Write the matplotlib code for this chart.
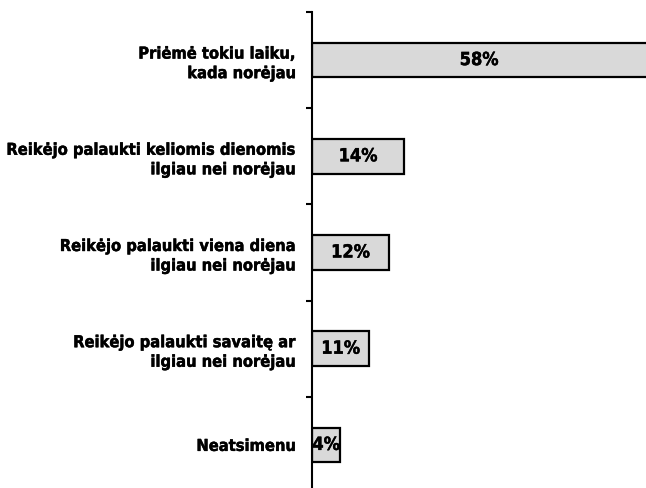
import matplotlib.pyplot as plt
import matplotlib.patheffects as pe

plt.rcParams['font.family'] = ['DejaVu Sans']
plt.rcParams['font.stretch'] = 'condensed'
plt.rcParams['font.weight'] = 'bold'

categories = [
    "Priėmė tokiu laiku,\nkada norėjau",
    "Reikėjo palaukti keliomis dienomis\nilgiau nei norėjau",
    "Reikėjo palaukti viena diena\nilgiau nei norėjau",
    "Reikėjo palaukti savaitę ar\nilgiau nei norėjau",
    "Neatsimenu",
]
# bar lengths, labels as printed
values = [58, 14, 11.7, 8.7, 4.3]
value_labels = ["58%", "14%", "12%", "11%", "4%"]

heavy = [pe.withStroke(linewidth=0.3, foreground='black')]

fig = plt.figure(figsize=(6.46, 4.88), dpi=100)
ax = fig.add_axes([312/646, -5/488, 334/646, 481/488])

pos = list(range(len(categories)))
ax.barh(pos, values, height=0.36, color='#d9d9d9', edgecolor='black', linewidth=1.6)

xmax = 50.8
ax.set_xlim(0, xmax)
ax.set_ylim(len(categories) - 0.5, -0.5)

for y, v, lab in zip(pos, values, value_labels):
    ax.text(min(v, xmax) / 2, y, lab, ha='center', va='center',
            fontsize=13, fontweight='bold', path_effects=heavy)

# boundary ticks on the axis, category names on hidden minor ticks
ax.set_yticks([p - 0.5 for p in pos] + [len(pos) - 0.5])
ax.set_yticklabels([])
ax.set_yticks(pos, minor=True)
ax.set_yticklabels(categories, minor=True, fontsize=11.8, fontweight='bold',
                   linespacing=1.38)
for t in ax.get_yticklabels(minor=True):
    t.set_path_effects(heavy)
ax.tick_params(axis='y', which='major', direction='out', length=4, width=1.5)
ax.tick_params(axis='y', which='minor', length=0, pad=11.5)
ax.set_xticks([])

for s in ['top', 'right', 'bottom']:
    ax.spines[s].set_visible(False)
ax.spines['left'].set_linewidth(1.5)

fig.savefig('out.png', dpi=100)
